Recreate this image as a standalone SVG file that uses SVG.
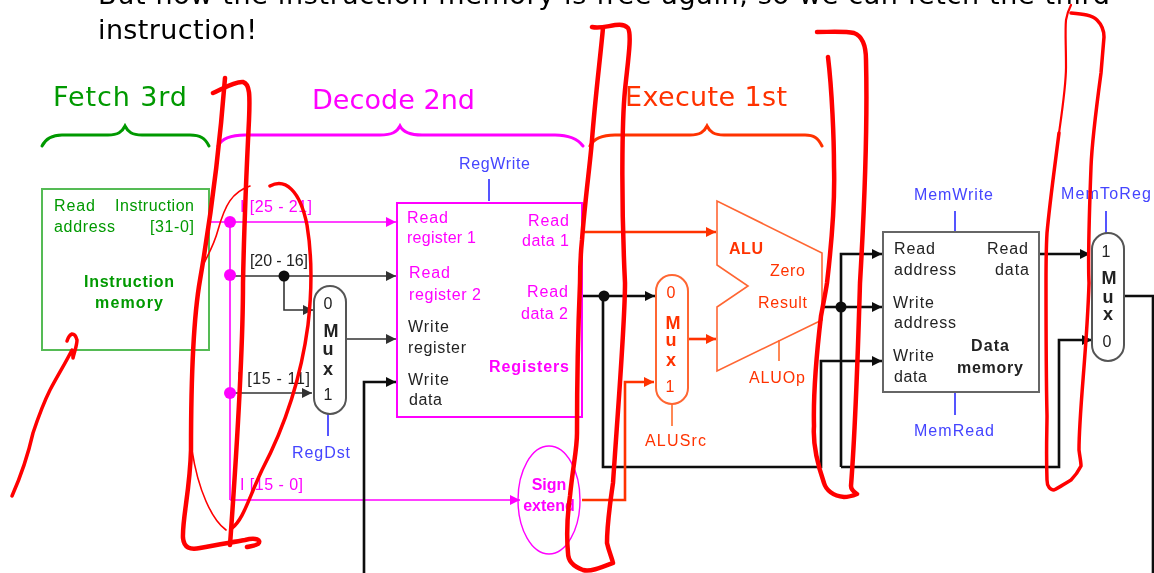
<svg xmlns="http://www.w3.org/2000/svg" width="1154" height="573" viewBox="0 0 1154 573">
<defs>
<filter id="soft" x="0" y="0" width="1154" height="573" filterUnits="userSpaceOnUse" primitiveUnits="userSpaceOnUse"><feGaussianBlur stdDeviation="0.5"/></filter>
<marker id="ab" markerUnits="userSpaceOnUse" markerWidth="12" markerHeight="10" refX="10" refY="5" orient="auto"><path d="M0 0L10 5L0 10z" fill="#111"/></marker>
<marker id="ag" markerUnits="userSpaceOnUse" markerWidth="12" markerHeight="10" refX="10" refY="5" orient="auto"><path d="M0 0L10 5L0 10z" fill="#333"/></marker>
<marker id="am" markerUnits="userSpaceOnUse" markerWidth="12" markerHeight="10" refX="10" refY="5" orient="auto"><path d="M0 0L10 5L0 10z" fill="#f0f"/></marker>
<marker id="ao" markerUnits="userSpaceOnUse" markerWidth="12" markerHeight="10" refX="10" refY="5" orient="auto"><path d="M0 0L10 5L0 10z" fill="#f30"/></marker>
</defs>
<style>
text{font-family:"Liberation Sans",Arial,sans-serif;font-size:16px}
.h{font-family:"DejaVu Sans",sans-serif;font-size:27px}
.b{font-weight:bold}
.mx{font-weight:bold;font-size:18px}
.c{text-anchor:middle}
.gr{fill:#090}.mg{fill:#f0f}.or{fill:#f30}.bk{fill:#222}.bl{fill:#44f}
.w{fill:none;stroke-linejoin:miter}
.wm{stroke:#f0f;stroke-width:1.6}
.wg{stroke:#333;stroke-width:1.6}
.wk{stroke:#111;stroke-width:2.6}
.wo{stroke:#f30;stroke-width:2.6}
.t{fill:none;stroke-width:2}
.br{fill:none;stroke-width:3;stroke-linecap:round}
.r{fill:none;stroke:#f00;stroke-width:4.5;stroke-linecap:round;stroke-linejoin:round}
.rs{stroke-width:3.5}
.rt{fill:none;stroke:#f00;stroke-width:1.6;stroke-linecap:round}
</style>
<rect width="1154" height="573" fill="#fff"/>
<g filter="url(#soft)">
<g id="title">
<text class="h" x="98" y="4" textLength="1012" fill="#000">But now the instruction memory is free again, so we can fetch the third</text>
<text class="h" x="98" y="39" textLength="159" fill="#000">instruction!</text>
</g>
<g id="stage-fetch">
<text class="h gr" x="53" y="106" textLength="134">Fetch 3rd</text>
<path class="br" stroke="#090" d="M42 146C46 138 52 135 62 135H108C118 135 122 132 125 126C128 132 132 135 142 135H190C200 135 205 138 209 146"/>
</g>
<g id="stage-decode">
<text class="h mg" x="312" y="109" textLength="163">Decode 2nd</text>
<path class="br" stroke="#f0f" d="M218 146C222 138 232 135 245 135H380C392 135 397 132 400 126C403 132 410 135 422 135H555C568 135 577 138 583 146"/>
</g>
<g id="stage-execute">
<text class="h or" x="625" y="106" textLength="162">Execute 1st</text>
<path class="br" stroke="#f30" d="M590 146C594 138 602 135 615 135H690C700 135 704 132 707 126C710 132 714 135 724 135H805C814 135 818 138 822 146"/>
</g>
<g id="connectors">
<path class="w wm" marker-end="url(#am)" d="M209 222H396"/>
<path class="w wm" d="M230 222V500"/>
<path class="w wm" marker-end="url(#am)" d="M230 500H520"/>
<path class="w wg" marker-end="url(#ag)" d="M230 276H396"/>
<path class="w wg" marker-end="url(#ag)" d="M284 276V310H313"/>
<path class="w wg" marker-end="url(#ag)" d="M230 393H312"/>
<path class="w wg" marker-end="url(#ag)" d="M346 339H396"/>
<path class="w wk" marker-end="url(#ab)" d="M364 573V382H396"/>
<path class="w wo" marker-end="url(#ao)" d="M583 232H716"/>
<path class="w wk" marker-end="url(#ab)" d="M583 296H655"/>
<path class="w wk" marker-end="url(#ab)" d="M603 296V467H821V361H882"/>
<path class="w wo" marker-end="url(#ao)" d="M582 500H625V382H654"/>
<path class="w wo" marker-end="url(#ao)" d="M688 339H716"/>
<path class="w wk" marker-end="url(#ab)" d="M824 307H882"/>
<path class="w wk" marker-end="url(#ab)" d="M841 467V254H882"/>
<path class="w wk" marker-end="url(#ab)" d="M841 467H1059V340H1092"/>
<path class="w wk" marker-end="url(#ab)" d="M1039 254H1090"/>
<path class="w wk" d="M1124 296H1153V573"/>
<circle cx="230" cy="222" r="6" fill="#f0f"/>
<circle cx="230" cy="275" r="6" fill="#f0f"/>
<circle cx="230" cy="393" r="6" fill="#f0f"/>
<circle cx="284" cy="276" r="5.5" fill="#111"/>
<circle cx="604" cy="296" r="5.5" fill="#111"/>
<circle cx="841" cy="307" r="5.5" fill="#111"/>
<path class="t" stroke="#55f" d="M328 414V436M489 179V201M955 211V232M955 392V415M1106 211V233"/>
<path class="t" stroke="#f85" d="M672 404V426M779 340V361"/>
</g>
<g id="wire-labels">
<text class="mg" x="240" y="212" textLength="72">I [25 - 21]</text>
<text class="bk" x="250" y="266" textLength="58">[20 - 16]</text>
<text class="bk" x="237" y="384" textLength="73">I [15 - 11]</text>
<text class="mg" x="240" y="490" textLength="63">I [15 - 0]</text>
</g>
<g id="instruction-memory">
<rect x="42" y="189" width="167" height="161" fill="none" stroke="#5b5" stroke-width="2"/>
<text class="gr" x="54" y="211" textLength="41">Read</text>
<text class="gr" x="115" y="211" textLength="79">Instruction</text>
<text class="gr" x="54" y="232" textLength="61">address</text>
<text class="gr" x="150" y="232" textLength="44">[31-0]</text>
<text class="gr b" x="84" y="287" textLength="90">Instruction</text>
<text class="gr b" x="95" y="308" textLength="68">memory</text>
</g>
<g id="mux-regdst">
<rect x="314" y="286" width="32" height="128" rx="16" fill="#fff" stroke="#555" stroke-width="2"/>
<text class="bk c" x="328" y="309">0</text>
<text class="bk c mx" x="331" y="337">M</text>
<text class="bk c mx" x="328" y="355">u</text>
<text class="bk c mx" x="328" y="375">x</text>
<text class="bk c" x="328" y="400">1</text>
<text class="bl" x="292" y="458" textLength="58">RegDst</text>
</g>
<g id="registers">
<rect x="397" y="203" width="185" height="214" fill="none" stroke="#f0f" stroke-width="2"/>
<text class="bl" x="459" y="169" textLength="71">RegWrite</text>
<text class="mg" x="407" y="223" textLength="41">Read</text>
<text class="mg" x="407" y="243" textLength="69">register 1</text>
<text class="mg" x="409" y="278" textLength="41">Read</text>
<text class="mg" x="409" y="300" textLength="72">register 2</text>
<text class="bk" x="408" y="332" textLength="41">Write</text>
<text class="bk" x="408" y="353" textLength="58">register</text>
<text class="bk" x="408" y="385" textLength="41">Write</text>
<text class="bk" x="409" y="405" textLength="33">data</text>
<text class="mg" x="528" y="226" textLength="41">Read</text>
<text class="mg" x="522" y="246" textLength="47">data 1</text>
<text class="mg" x="527" y="297" textLength="41">Read</text>
<text class="mg" x="521" y="319" textLength="47">data 2</text>
<text class="mg b" x="489" y="372" textLength="80">Registers</text>
</g>
<g id="sign-extend">
<ellipse cx="549" cy="500" rx="31" ry="54" fill="none" stroke="#f0f" stroke-width="1.4"/>
<text class="mg c b" x="549" y="490">Sign</text>
<text class="mg c b" x="549" y="511">extend</text>
</g>
<g id="mux-alusrc">
<rect x="656" y="275" width="32" height="129" rx="16" fill="none" stroke="#f63" stroke-width="2"/>
<text class="or c" x="671" y="298">0</text>
<text class="or c mx" x="673" y="329">M</text>
<text class="or c mx" x="671" y="346">u</text>
<text class="or c mx" x="671" y="366">x</text>
<text class="or c" x="670" y="392">1</text>
<text class="or" x="645" y="446" textLength="61">ALUSrc</text>
</g>
<g id="alu">
<path d="M717 201V265L748 286L717 307V371L822 320V253Z" fill="none" stroke="#f63" stroke-width="1.6"/>
<text class="or b" x="729" y="254" textLength="34">ALU</text>
<text class="or" x="770" y="276" textLength="35">Zero</text>
<text class="or" x="758" y="308" textLength="49">Result</text>
<text class="or" x="749" y="383" textLength="56">ALUOp</text>
</g>
<g id="data-memory">
<rect x="883" y="232" width="156" height="160" fill="none" stroke="#666" stroke-width="2"/>
<text class="bl" x="914" y="200" textLength="79">MemWrite</text>
<text class="bl" x="914" y="436" textLength="80">MemRead</text>
<text class="bk" x="894" y="254" textLength="41">Read</text>
<text class="bk" x="894" y="275" textLength="62">address</text>
<text class="bk" x="987" y="254" textLength="41">Read</text>
<text class="bk" x="995" y="275" textLength="34">data</text>
<text class="bk" x="893" y="308" textLength="41">Write</text>
<text class="bk" x="894" y="328" textLength="62">address</text>
<text class="bk" x="893" y="361" textLength="41">Write</text>
<text class="bk" x="894" y="382" textLength="33">data</text>
<text class="bk b" x="971" y="351" textLength="38">Data</text>
<text class="bk b" x="957" y="373" textLength="66">memory</text>
</g>
<g id="mux-memtoreg">
<rect x="1092" y="233" width="32" height="128" rx="16" fill="none" stroke="#555" stroke-width="2"/>
<text class="bl" x="1061" y="199" textLength="90">MemToReg</text>
<text class="bk c" x="1106" y="257">1</text>
<text class="bk c mx" x="1109" y="284">M</text>
<text class="bk c mx" x="1108" y="303">u</text>
<text class="bk c mx" x="1108" y="320">x</text>
<text class="bk c" x="1107" y="347">0</text>
</g>
<g id="ink">
<path class="r" d="M213 93C222 89 235 81 243 82C250 84 250 95 249 120C247 160 244 230 243 283C243 340 239 420 230 545"/>
<path class="r" d="M225 78C221 130 212 210 200 280C193 320 191 380 191 450C190 490 182 520 183 538C184 548 190 550 200 548C215 545 228 543 245 540C256 537 262 540 258 544C255 546 250 546 247 547"/>
<path class="rt" d="M250 186C232 192 225 205 218 230C214 245 208 255 203 265"/>
<path class="rt" d="M192 450C198 490 212 520 226 530"/>
<path class="r rs" d="M270 186C285 178 300 190 307 225C312 255 312 290 308 325C300 385 283 430 262 470C248 500 243 520 232 528"/>
<path class="r" d="M592 27C605 30 620 20 628 28C632 35 628 60 625 90C622 120 621 200 625 283C625 320 621 366 613 483C609 510 607 530 607 543C609 552 612 558 613 563C600 568 590 572 583 570C572 566 568 560 568 553C566 530 568 510 570 496C573 465 577 450 577 433C577 380 578 330 580 283C580 265 581 250 582 240C585 200 590 165 592 140C595 100 600 60 603 28"/>
<path class="r" d="M817 32C830 32 845 31 854 33C862 36 866 45 866 60C867 100 866 180 860 283C858 350 856 420 851 486C851 490 854 492 857 494C852 496 848 497 844 497C833 496 826 490 824 483C816 460 813 440 814 426C813 390 817 350 821 316C824 300 826 290 827 283C832 240 835 200 834 167C834 140 832 90 828 57"/>
<path class="r rs" d="M1071 13C1083 14 1092 15 1097 20C1103 26 1104 32 1104 37C1103 50 1102 60 1101 73C1096 110 1092 140 1091 167C1089 220 1088 260 1089 283C1087 350 1079 410 1079 450C1080 458 1081 462 1081 466C1078 472 1075 476 1071 480C1064 484 1059 488 1054 490C1050 490 1047 486 1047 480C1046 450 1047 430 1047 416C1046 370 1046 330 1046 283C1046 265 1046 250 1047 233C1050 200 1055 165 1059 133"/>
<path class="rt" style="stroke-width:2.2" d="M1059 133C1063 105 1066 85 1066 67C1066 45 1065 30 1066 20C1067 13 1069 9 1071 5"/>
<path class="r rs" d="M12 496C20 478 28 455 33 433C38 418 44 402 50 390C58 375 66 362 72 350C73 352 73 356 73 358C75 350 77 345 77 340C76 336 74 334 72 334C69 335 68 338 67 341"/>
</g>
</g>
</svg>
